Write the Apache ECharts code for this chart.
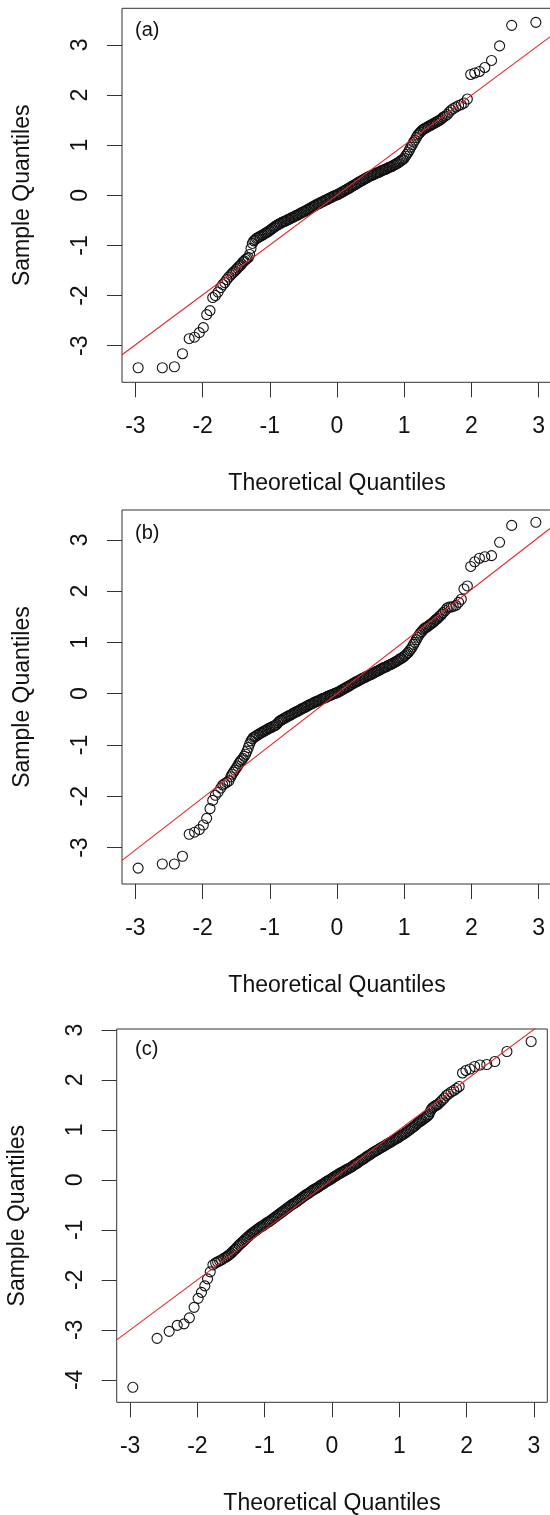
<!DOCTYPE html>
<html>
<head>
<meta charset="utf-8">
<script src="https://cdn.jsdelivr.net/npm/echarts@6/dist/echarts.min.js"></script>
<style>
html,body{margin:0;padding:0;background:#ffffff;}
#chart{width:550px;height:1515px;}
</style>
</head>
<body>
<div id="chart"></div>
<script>
// ---------------- data ----------------
// theoretical normal quantiles (shared by the three panels), read from the point positions
const theoretical = [
  -2.96,-2.60,-2.42,-2.30,-2.20,-2.12,-2.05,-1.99,-1.94,-1.89,-1.85,-1.81,-1.77,-1.73,-1.70,-1.67,-1.64,-1.61,-1.58,
  -1.56,-1.54,-1.52,-1.50,-1.48,-1.46,-1.44,-1.42,-1.40,-1.38,
  -1.36,-1.34,-1.32,-1.30,-1.28,-1.26,-1.24,-1.22,-1.20,-1.18,
  -1.16,-1.14,-1.12,-1.10,-1.08,-1.06,-1.04,-1.02,-1.00,-0.98,
  -0.96,-0.94,-0.92,-0.90,-0.88,-0.86,-0.84,-0.82,-0.80,-0.78,
  -0.76,-0.74,-0.72,-0.70,-0.68,-0.66,-0.64,-0.62,-0.60,-0.58,
  -0.56,-0.54,-0.52,-0.50,-0.48,-0.46,-0.44,-0.42,-0.40,-0.38,
  -0.36,-0.34,-0.32,-0.30,-0.28,-0.26,-0.24,-0.22,-0.20,-0.18,
  -0.16,-0.14,-0.12,-0.10,-0.08,-0.06,-0.04,-0.02,0.00,0.02,
  0.04,0.06,0.08,0.10,0.12,0.14,0.16,0.18,0.20,0.22,
  0.24,0.26,0.28,0.30,0.32,0.34,0.36,0.38,0.40,0.42,
  0.44,0.46,0.48,0.50,0.52,0.54,0.56,0.58,0.60,0.62,
  0.64,0.66,0.68,0.70,0.72,0.74,0.76,0.78,0.80,0.82,
  0.84,0.86,0.88,0.90,0.92,0.94,0.96,0.98,1.00,1.02,
  1.04,1.06,1.08,1.10,1.12,1.14,1.16,1.18,1.20,1.22,
  1.24,1.26,1.28,1.30,1.32,1.34,1.36,1.38,1.40,1.42,
  1.44,1.46,1.48,1.50,1.52,1.54,1.56,
  1.58,1.61,1.64,1.67,1.70,1.73,1.77,1.81,1.85,1.89,1.94,1.99,2.05,2.12,2.20,2.30,2.42,2.60,2.96
];

// sample quantiles, panel (a)
const sampleA = [
  -3.44,-3.44,-3.42,-3.16,-2.86,-2.83,-2.74,-2.64,-2.38,-2.30,-2.04,-2.00,-1.93,-1.84,-1.78,-1.74,-1.68,-1.63,-1.59,
  -1.56,-1.53,-1.51,-1.48,-1.45,-1.42,-1.40,-1.37,-1.33,-1.31,
  -1.28,-1.26,-1.24,-1.18,-1.06,-0.96,-0.91,-0.89,-0.86,-0.85,
  -0.83,-0.82,-0.80,-0.79,-0.77,-0.75,-0.74,-0.72,-0.70,-0.68,
  -0.66,-0.64,-0.62,-0.60,-0.59,-0.57,-0.56,-0.54,-0.53,-0.52,
  -0.51,-0.49,-0.48,-0.47,-0.45,-0.44,-0.43,-0.41,-0.40,-0.39,
  -0.37,-0.36,-0.34,-0.33,-0.32,-0.30,-0.29,-0.27,-0.26,-0.24,
  -0.23,-0.21,-0.20,-0.18,-0.17,-0.16,-0.14,-0.13,-0.12,-0.10,
  -0.09,-0.08,-0.06,-0.05,-0.04,-0.02,-0.01,0.00,0.01,0.02,
  0.04,0.05,0.07,0.08,0.10,0.11,0.13,0.14,0.16,0.18,
  0.19,0.21,0.22,0.24,0.26,0.27,0.29,0.30,0.32,0.33,
  0.35,0.36,0.38,0.39,0.40,0.41,0.43,0.44,0.45,0.46,
  0.47,0.49,0.50,0.51,0.52,0.53,0.55,0.56,0.57,0.58,
  0.60,0.61,0.63,0.64,0.66,0.68,0.70,0.72,0.74,0.78,
  0.82,0.86,0.91,0.96,1.01,1.06,1.10,1.15,1.20,1.23,
  1.26,1.29,1.31,1.33,1.34,1.36,1.37,1.39,1.40,1.42,
  1.43,1.45,1.46,1.48,1.49,1.51,1.53,
  1.56,1.58,1.61,1.66,1.70,1.73,1.76,1.79,1.81,1.84,1.92,2.41,2.44,2.47,2.55,2.69,2.98,3.39,3.45
];

// sample quantiles, panel (b)
const sampleB = [
  -3.40,-3.32,-3.32,-3.17,-2.74,-2.70,-2.65,-2.56,-2.43,-2.24,-2.08,-1.98,-1.92,-1.84,-1.78,-1.75,-1.73,-1.70,-1.62,
  -1.57,-1.53,-1.49,-1.45,-1.41,-1.36,-1.32,-1.29,-1.26,-1.22,
  -1.18,-1.12,-1.05,-0.98,-0.92,-0.88,-0.85,-0.84,-0.82,-0.80,
  -0.79,-0.77,-0.76,-0.74,-0.73,-0.71,-0.70,-0.68,-0.67,-0.66,
  -0.64,-0.63,-0.62,-0.60,-0.57,-0.54,-0.52,-0.51,-0.49,-0.48,
  -0.46,-0.45,-0.43,-0.42,-0.41,-0.39,-0.38,-0.36,-0.35,-0.34,
  -0.32,-0.31,-0.29,-0.28,-0.27,-0.25,-0.24,-0.22,-0.21,-0.20,
  -0.19,-0.17,-0.16,-0.15,-0.14,-0.13,-0.11,-0.10,-0.09,-0.08,
  -0.07,-0.05,-0.04,-0.03,-0.02,-0.01,0.00,0.01,0.02,0.03,
  0.05,0.06,0.08,0.09,0.11,0.12,0.14,0.15,0.17,0.18,
  0.20,0.21,0.23,0.24,0.25,0.27,0.28,0.30,0.31,0.32,
  0.34,0.35,0.36,0.37,0.38,0.40,0.41,0.43,0.44,0.45,
  0.47,0.48,0.50,0.51,0.52,0.53,0.55,0.56,0.57,0.58,
  0.60,0.61,0.63,0.64,0.66,0.68,0.69,0.71,0.73,0.75,
  0.78,0.80,0.84,0.87,0.91,0.96,1.00,1.05,1.10,1.14,
  1.18,1.21,1.24,1.27,1.29,1.30,1.32,1.34,1.36,1.38,
  1.40,1.43,1.45,1.47,1.50,1.52,1.55,
  1.58,1.62,1.67,1.69,1.69,1.70,1.72,1.78,1.84,2.04,2.10,2.48,2.57,2.64,2.67,2.69,2.95,3.28,3.34
];

// sample quantiles, panel (c)
const sampleC = [
  -4.15,-3.17,-3.03,-2.91,-2.88,-2.76,-2.55,-2.37,-2.25,-2.12,-1.98,-1.84,-1.70,-1.66,-1.64,-1.62,-1.60,-1.57,-1.55,
  -1.53,-1.51,-1.49,-1.47,-1.44,-1.41,-1.39,-1.36,-1.33,-1.30,
  -1.28,-1.25,-1.23,-1.20,-1.18,-1.15,-1.13,-1.10,-1.08,-1.06,
  -1.04,-1.02,-1.00,-0.98,-0.96,-0.94,-0.93,-0.91,-0.89,-0.87,
  -0.85,-0.84,-0.82,-0.80,-0.78,-0.76,-0.74,-0.72,-0.70,-0.68,
  -0.66,-0.64,-0.62,-0.60,-0.58,-0.56,-0.54,-0.52,-0.50,-0.48,
  -0.47,-0.45,-0.43,-0.41,-0.39,-0.37,-0.35,-0.33,-0.31,-0.29,
  -0.28,-0.26,-0.24,-0.22,-0.20,-0.19,-0.17,-0.16,-0.14,-0.12,
  -0.10,-0.09,-0.07,-0.05,-0.03,-0.02,0.00,0.01,0.03,0.05,
  0.07,0.08,0.10,0.12,0.13,0.15,0.16,0.18,0.19,0.21,
  0.22,0.24,0.25,0.27,0.29,0.31,0.32,0.34,0.36,0.38,
  0.40,0.41,0.43,0.45,0.47,0.49,0.50,0.52,0.54,0.56,
  0.57,0.59,0.60,0.62,0.64,0.65,0.67,0.68,0.70,0.72,
  0.73,0.75,0.76,0.78,0.80,0.81,0.83,0.84,0.86,0.88,
  0.90,0.91,0.93,0.95,0.97,0.99,1.01,1.03,1.05,1.07,
  1.09,1.12,1.14,1.16,1.18,1.20,1.22,1.24,1.26,1.28,
  1.31,1.37,1.42,1.45,1.47,1.49,1.50,
  1.52,1.56,1.60,1.64,1.69,1.72,1.76,1.79,1.83,1.87,2.14,2.19,2.22,2.27,2.30,2.31,2.37,2.57,2.77
];

// reference (qq) lines: two end points [theoretical, sample]
const qqlineA = [[-3.2, -3.18], [3.2, 3.19]];
const qqlineB = [[-3.2, -3.25], [3.2, 3.25]];
const qqlineC = [[-3.2, -3.20], [3.2, 3.21]];

// tick labels
const xTicks = [-3, -2, -1, 0, 1, 2, 3];
const yTicksAB = [-3, -2, -1, 0, 1, 2, 3];
const yTicksC = [-4, -3, -2, -1, 0, 1, 2, 3];

const panelLabels = ['(a)', '(b)', '(c)'];
const xTitle = 'Theoretical Quantiles';
const yTitle = 'Sample Quantiles';

// ---------------- layout / style ----------------
const FONT = '"Liberation Sans", Arial, Helvetica, sans-serif';
const INK = '#111111';
const FRAME = '#333333';
const RED = '#e3262b';

const layouts = [
  {grid: {left: 122, top: 8.3, width: 430, height: 374}, xRange: [-3.2, 3.2], yRange: [-3.73, 3.73], labelTop: 20.5},
  {grid: {left: 122, top: 510, width: 430, height: 374}, xRange: [-3.2, 3.2], yRange: [-3.71, 3.58], labelTop: 523},
  {grid: {left: 116.7, top: 1029, width: 430.6, height: 373.3}, xRange: [-3.2, 3.2], yRange: [-4.45, 3.02], labelTop: 1039.5}
];
const panelData = [
  {sample: sampleA, line: qqlineA, yTicks: yTicksAB},
  {sample: sampleB, line: qqlineB, yTicks: yTicksAB},
  {sample: sampleC, line: qqlineC, yTicks: yTicksC}
];

const grids = [], xAxes = [], yAxes = [], series = [], titles = [];
layouts.forEach((L, i) => {
  const D = panelData[i];
  grids.push(Object.assign({
    show: true, borderColor: FRAME, borderWidth: 1, backgroundColor: 'transparent',
    containLabel: false, outerBoundsMode: 'none'
  }, L.grid));
  xAxes.push({
    type: 'value', gridIndex: i, min: L.xRange[0], max: L.xRange[1], position: 'bottom',
    axisLine: {show: false, onZero: false},
    axisTick: {show: true, length: 15, customValues: xTicks, lineStyle: {color: FRAME, width: 1}},
    axisLabel: {show: true, customValues: xTicks, margin: 33, fontSize: 23, color: INK, fontFamily: FONT},
    splitLine: {show: false},
    name: xTitle, nameLocation: 'middle', nameGap: 90,
    nameTextStyle: {fontSize: 23, color: INK, fontFamily: FONT}
  });
  yAxes.push({
    type: 'value', gridIndex: i, min: L.yRange[0], max: L.yRange[1], position: 'left',
    axisLine: {show: false, onZero: false},
    axisTick: {show: true, length: 15, customValues: D.yTicks, lineStyle: {color: FRAME, width: 1}},
    axisLabel: {show: true, customValues: D.yTicks, rotate: 90, margin: 30, fontSize: 23, color: INK, fontFamily: FONT},
    splitLine: {show: false},
    name: yTitle, nameLocation: 'middle', nameGap: 88,
    nameTextStyle: {fontSize: 23, color: INK, fontFamily: FONT}
  });
  series.push({
    type: 'scatter', xAxisIndex: i, yAxisIndex: i,
    data: theoretical.map((q, k) => [q, D.sample[k]]),
    symbol: 'circle', symbolSize: 10,
    itemStyle: {color: 'rgba(0,0,0,0)', borderColor: '#111111', borderWidth: 1.1, opacity: 1},
    emphasis: {disabled: true}, silent: true, z: 2
  });
  series.push({
    type: 'line', xAxisIndex: i, yAxisIndex: i,
    data: D.line, symbol: 'none', showSymbol: false, clip: true,
    lineStyle: {color: RED, width: 1.1},
    emphasis: {disabled: true}, silent: true, z: 3
  });
  titles.push({
    text: panelLabels[i], left: 135, top: L.labelTop, padding: 0,
    textStyle: {fontSize: 20, fontWeight: 'normal', color: INK, fontFamily: FONT}
  });
});

const chart = echarts.init(document.getElementById('chart'), null, {renderer: 'canvas'});
chart.setOption({
  backgroundColor: '#ffffff',
  animation: false,
  title: titles,
  grid: grids,
  xAxis: xAxes,
  yAxis: yAxes,
  series: series
});
</script>
</body>
</html>
